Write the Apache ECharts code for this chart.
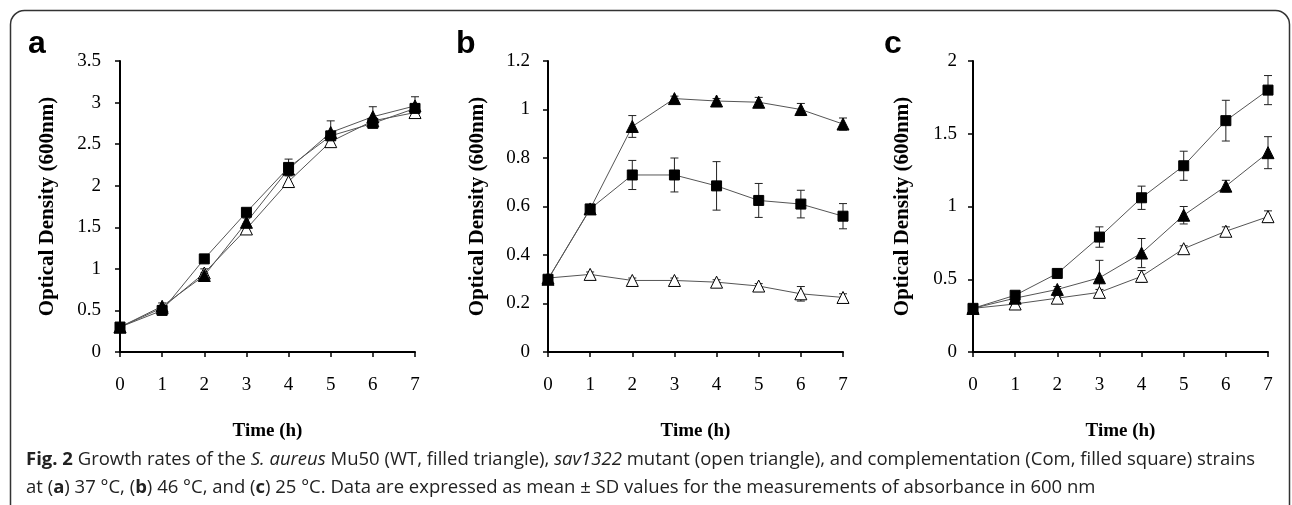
<!DOCTYPE html>
<html><head><meta charset="utf-8">
<script src="https://cdn.jsdelivr.net/npm/echarts@6/dist/echarts.min.js"></script>
<style>html,body{margin:0;padding:0;background:#fff}#c{width:1292px;height:505px}</style>
</head><body><div id="c"></div>
<script>
const times = [0,1,2,3,4,5,6,7];
const xTicks = ['0','1','2','3','4','5','6','7'];
const panelLetters = ['a','b','c'];
const yTitle = 'Optical Density (600nm)';
const xTitle = 'Time (h)';
const yMax = [3.5, 1.2, 2];
const yStep = [0.5, 0.2, 0.5];

// Panel a (37 °C)
const aWT = [0.3, 0.55, 0.92, 1.56, 2.2, 2.64, 2.83, 2.96];
const aWTsd = [0, 0.04, 0.03, 0.05, 0.06, 0.14, 0.12, 0.11];
const aMut = [0.3, 0.53, 0.95, 1.48, 2.05, 2.53, 2.78, 2.88];
const aMutsd = [0, 0.03, 0.05, 0.06, 0.07, 0.05, 0.04, 0.05];
const aCom = [0.3, 0.5, 1.12, 1.68, 2.22, 2.6, 2.75, 2.93];
const aComsd = [0, 0.03, 0.04, 0.04, 0.1, 0.05, 0.05, 0.05];

// Panel b (46 °C)
const bWT = [0.3, 0.59, 0.93, 1.045, 1.035, 1.03, 1.0, 0.94];
const bWTsd = [0, 0.01, 0.045, 0.01, 0.01, 0.02, 0.025, 0.025];
const bMut = [0.305, 0.32, 0.295, 0.295, 0.288, 0.272, 0.24, 0.225];
const bMutsd = [0, 0.01, 0.01, 0.01, 0.01, 0.01, 0.03, 0.015];
const bCom = [0.3, 0.59, 0.73, 0.73, 0.685, 0.625, 0.61, 0.56];
const bComsd = [0, 0.01, 0.06, 0.07, 0.1, 0.07, 0.057, 0.052];

// Panel c (25 °C)
const cWT = [0.3, 0.37, 0.43, 0.51, 0.68, 0.94, 1.14, 1.37];
const cWTsd = [0, 0.01, 0.02, 0.12, 0.1, 0.06, 0.04, 0.11];
const cMut = [0.3, 0.33, 0.37, 0.41, 0.52, 0.71, 0.83, 0.93];
const cMutsd = [0, 0.01, 0.01, 0.02, 0.04, 0.02, 0.03, 0.04];
const cCom = [0.3, 0.39, 0.54, 0.79, 1.06, 1.28, 1.59, 1.8];
const cComsd = [0, 0.01, 0.02, 0.07, 0.08, 0.1, 0.14, 0.1];

const panels = [
  {WT:aWT, WTsd:aWTsd, Mut:aMut, Mutsd:aMutsd, Com:aCom, Comsd:aComsd},
  {WT:bWT, WTsd:bWTsd, Mut:bMut, Mutsd:bMutsd, Com:bCom, Comsd:bComsd},
  {WT:cWT, WTsd:cWTsd, Mut:cMut, Mutsd:cMutsd, Com:cCom, Comsd:cComsd}
];

const gridLeft = [120, 548, 973];
const labelMargin = [19, 18, 16];
const titleGap = [62, 60, 60];
const gridW = 295;
const serif = 'Liberation Serif';

function errRender(params, api){
  const x = api.value(0), y = api.value(1), e = api.value(2);
  if (!e) return null;
  const t = api.coord([x, y + e]), b = api.coord([x, y - e]);
  const w = 4;
  const st = {stroke:'#222', lineWidth:1};
  return {type:'group', children:[
    {type:'line', shape:{x1:t[0], y1:t[1], x2:b[0], y2:b[1]}, style:st},
    {type:'line', shape:{x1:t[0]-w, y1:t[1], x2:t[0]+w, y2:t[1]}, style:st},
    {type:'line', shape:{x1:b[0]-w, y1:b[1], x2:b[0]+w, y2:b[1]}, style:st}
  ]};
}

const grids = [], xAxes = [], yAxes = [], series = [];
panels.forEach((p, i) => {
  grids.push({left: gridLeft[i], top: 61, width: gridW, height: 291});
  xAxes.push({
    type:'value', gridIndex:i, min:0, max:7, interval:1,
    name: xTitle, nameLocation:'middle', nameGap:70,
    nameTextStyle:{fontFamily:serif, fontWeight:'bold', fontSize:19, color:'#000'},
    axisLine:{lineStyle:{color:'#000', width:2}},
    axisTick:{show:true, length:5, lineStyle:{color:'#000', width:1.5}},
    axisLabel:{fontFamily:serif, fontSize:19, color:'#000', margin:24,
      formatter: v => xTicks[v]},
    splitLine:{show:false}
  });
  yAxes.push({
    type:'value', gridIndex:i, min:0, max:yMax[i], interval:yStep[i],
    name: yTitle, nameLocation:'middle', nameGap: titleGap[i],
    nameTextStyle:{fontFamily:serif, fontWeight:'bold', fontSize:21, color:'#000'},
    axisLine:{show:true, lineStyle:{color:'#000', width:2}},
    axisTick:{show:true, length:5, lineStyle:{color:'#000', width:1.5}},
    axisLabel:{fontFamily:serif, fontSize:19, color:'#000', margin:labelMargin[i]},
    splitLine:{show:false}
  });
  const defs = [
    {key:'Mut', sym:'triangle', size:12, fill:'#fff'},
    {key:'WT', sym:'triangle', size:12, fill:'#000'},
    {key:'Com', sym:'rect', size:10, fill:'#000'}
  ];
  defs.forEach((d, k) => {
    series.push({
      type:'custom', xAxisIndex:i, yAxisIndex:i, renderItem: errRender,
      encode:{x:0, y:1}, z: 3 + k,
      data: times.map((t, j) => [t, p[d.key][j], p[d.key + 'sd'][j]]),
      silent:true
    });
    series.push({
      type:'line', xAxisIndex:i, yAxisIndex:i, z: 4 + k,
      data: times.map((t, j) => [t, p[d.key][j]]),
      symbol: d.sym, symbolSize: d.size, showSymbol:true,
      lineStyle:{color:'#555', width:1},
      itemStyle:{color:d.fill, borderColor:'#000', borderWidth:1, opacity:1},
      animation:false, silent:true
    });
  });
});

const letterX = [28, 456, 884];
const graphics = [
  {type:'rect', shape:{x:10.5, y:10.5, width:1279, height:540, r:14},
   style:{fill:'none', stroke:'#333', lineWidth:1.5}, z:0}
];
panelLetters.forEach((L, i) => graphics.push({
  type:'text', x: letterX[i], y: 28,
  style:{text:L, fontFamily:'Liberation Sans', fontWeight:'bold', fontSize:32, fill:'#000'}
}));
const capFont = 18.5;
graphics.push({
  type:'text', x:26, y:450,
  style:{
    text:'{b|Fig. 2} Growth rates of the {i|S. aureus} Mu50 (WT, filled triangle), {i|sav1322} mutant (open triangle), and complementation (Com, filled square) strains',
    fontFamily:'Open Sans', fontSize:capFont, fill:'#222',
    rich:{b:{fontFamily:'Open Sans', fontWeight:'bold', fontSize:capFont, fill:'#222'},
          i:{fontFamily:'Open Sans', fontStyle:'italic', fontSize:capFont, fill:'#222'}}
  }
});
graphics.push({
  type:'text', x:26, y:478,
  style:{
    text:'at ({b|a}) 37 °C, ({b|b}) 46 °C, and ({b|c}) 25 °C. Data are expressed as mean ± SD values for the measurements of absorbance in 600 nm',
    fontFamily:'Open Sans', fontSize:capFont, fill:'#222',
    rich:{b:{fontFamily:'Open Sans', fontWeight:'bold', fontSize:capFont, fill:'#222'}}
  }
});

const chart = echarts.init(document.getElementById('c'), null, {renderer:'canvas'});
chart.setOption({
  animation:false,
  backgroundColor:'#fff',
  grid: grids, xAxis: xAxes, yAxis: yAxes, series: series,
  graphic: graphics
});
</script></body></html>
